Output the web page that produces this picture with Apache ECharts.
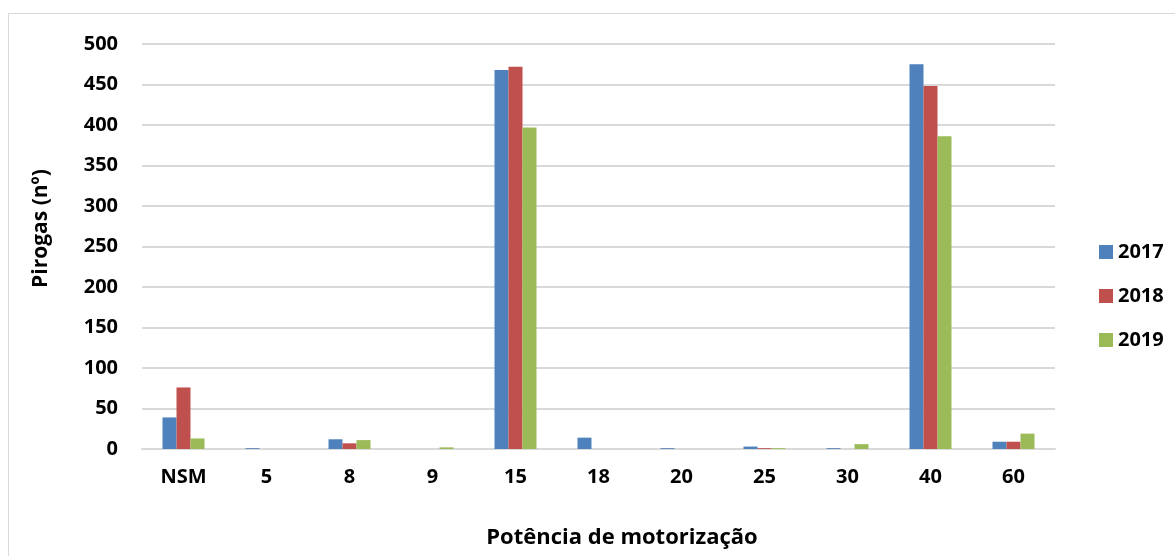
<!DOCTYPE html>
<html lang="pt">
<head>
    <meta charset="UTF-8" />
    <title>Pirogas por potência de motorização</title>
    <script src="https://cdn.jsdelivr.net/npm/echarts@6/dist/echarts.min.js"></script>
    <style>
        html, body { margin: 0; padding: 0; background: #ffffff; overflow: hidden; }
        #box {
            position: absolute; left: 8px; top: 13px; width: 1167px; height: 543px;
            border: 1px solid #d9d9d9; border-right: none; border-bottom: none; box-sizing: border-box;
        }
        #myDiv { position: absolute; left: 0; top: 0; width: 1175px; height: 556px; }
    </style>
</head>
<body>
    <div id="box"></div>
    <div id="myDiv"></div>
    <script type="text/javascript">
        // categorias (potência) e número de pirogas por ano
        var categorias = ['NSM', '5', '8', '9', '15', '18', '20', '25', '30', '40', '60'];
        var anos = ['2017', '2018', '2019'];
        var dados2017 = [39, 1, 12, 0, 468, 14, 1, 3, 1, 475, 9];
        var dados2018 = [76, 0, 7, 0, 472, 0, 0, 1, 0, 448, 9];
        var dados2019 = [13, 0, 11, 2, 397, 0, 0, 1, 6, 386, 19];
        var cores = ['#4f81bd', '#c0504d', '#9bbb59'];

        var myChart = echarts.init(document.getElementById('myDiv'));
        var fonte = '"Open Sans", sans-serif';

        function serie(nome, valores, cor) {
            return {
                name: nome,
                type: 'bar',
                data: valores,
                barWidth: 14,
                barGap: '0%',
                itemStyle: { color: cor }
            };
        }

        var option = {
            animation: false,
            // título do eixo x (centrado na área do gráfico, como no original)
            title: {
                text: 'Potência de motorização',
                left: 622,
                top: 527,
                textAlign: 'center',
                padding: 0,
                textStyle: { fontFamily: fonte, fontWeight: 'bold', fontSize: 22, color: '#000' }
            },
            grid: { left: 142, right: 120, top: 44, bottom: 107, outerBoundsMode: 'none' },
            legend: {
                orient: 'vertical',
                left: 1094,
                top: 237,
                itemWidth: 14,
                itemHeight: 14,
                itemGap: 24,
                icon: 'rect',
                textStyle: { fontFamily: fonte, fontWeight: 'bold', fontSize: 20, color: '#000' },
                data: anos
            },
            xAxis: {
                type: 'category',
                data: categorias,
                axisLine: { lineStyle: { color: '#d9d9d9', width: 2 } },
                axisTick: { show: false },
                axisLabel: { fontFamily: fonte, fontWeight: 'bold', fontSize: 20, color: '#000', margin: 18 }
            },
            yAxis: {
                type: 'value',
                min: 0,
                max: 500,
                interval: 50,
                name: 'Pirogas (nº)',
                nameLocation: 'middle',
                nameGap: 90,
                nameTextStyle: { fontFamily: fonte, fontWeight: 'bold', fontSize: 21, color: '#000', padding: [0, 0, 0, 36] },
                axisLine: { show: false },
                axisTick: { show: false },
                splitLine: { lineStyle: { color: '#d9d9d9', width: 2 } },
                axisLabel: { fontFamily: fonte, fontWeight: 'bold', fontSize: 20, color: '#000', margin: 24 }
            },
            series: [
                serie(anos[0], dados2017, cores[0]),
                serie(anos[1], dados2018, cores[1]),
                serie(anos[2], dados2019, cores[2])
            ]
        };
        option && myChart.setOption(option);
    </script>
</body>
</html>
